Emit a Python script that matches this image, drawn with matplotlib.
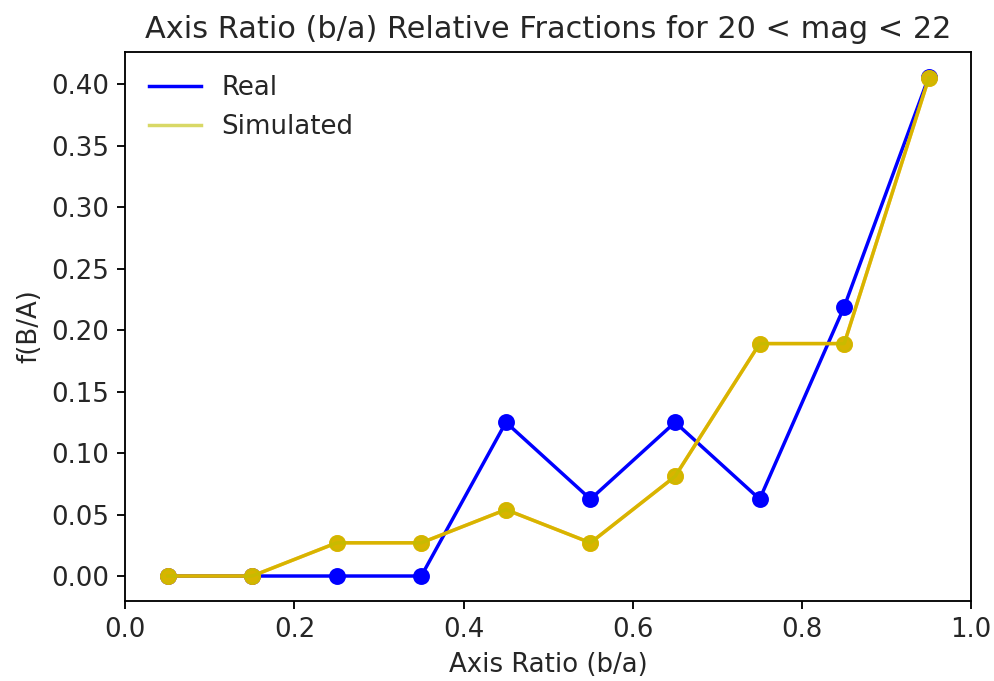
import matplotlib
matplotlib.use("Agg")
import matplotlib.pyplot as plt

# bin centres of the axis ratio histogram
axis_ratio = [0.05, 0.15, 0.25, 0.35, 0.45, 0.55, 0.65, 0.75, 0.85, 0.95]

# relative fractions
real_frac = [0.0, 0.0, 0.0, 0.0, 0.125, 0.0625, 0.125, 0.0625, 0.219, 0.406]
sim_frac = [0.0, 0.0, 0.027, 0.027, 0.054, 0.027, 0.081, 0.189, 0.189, 0.405]

plt.rcParams['font.size'] = 11.3
plt.rcParams['text.color'] = '#262626'
plt.rcParams['xtick.labelcolor'] = '#262626'
plt.rcParams['ytick.labelcolor'] = '#262626'
plt.rcParams['axes.labelcolor'] = '#262626'

fig = plt.figure(figsize=(994 / 166, 681 / 166), dpi=166)
ax = fig.add_axes([0.126, 0.1175, 0.851, 0.8065])

ax.plot(axis_ratio, real_frac, color='b', lw=1.5, zorder=2, label='Real')
ax.scatter(axis_ratio, real_frac, color='b', s=40, zorder=2)

# simulated: orange underneath, yellow on top gives the mixed look
ax.plot(axis_ratio, sim_frac, color='orange', lw=1.5, zorder=3)
ax.scatter(axis_ratio, sim_frac, color='orange', s=40, zorder=3)
ax.plot(axis_ratio, sim_frac, color='y', lw=1.5, alpha=0.6, zorder=4,
        label='Simulated')
ax.scatter(axis_ratio, sim_frac, color='y', s=40, alpha=0.6, zorder=4)

ax.set_xlim(0, 1)
ax.set_title('Axis Ratio (b/a) Relative Fractions for 20 < mag < 22',
             fontsize=13.2)
ax.set_xlabel('Axis Ratio (b/a)')
ax.set_ylabel('f(B/A)')

ax.legend(loc='upper left', edgecolor='white')

fig.savefig('out.png', dpi=166, facecolor='white')
